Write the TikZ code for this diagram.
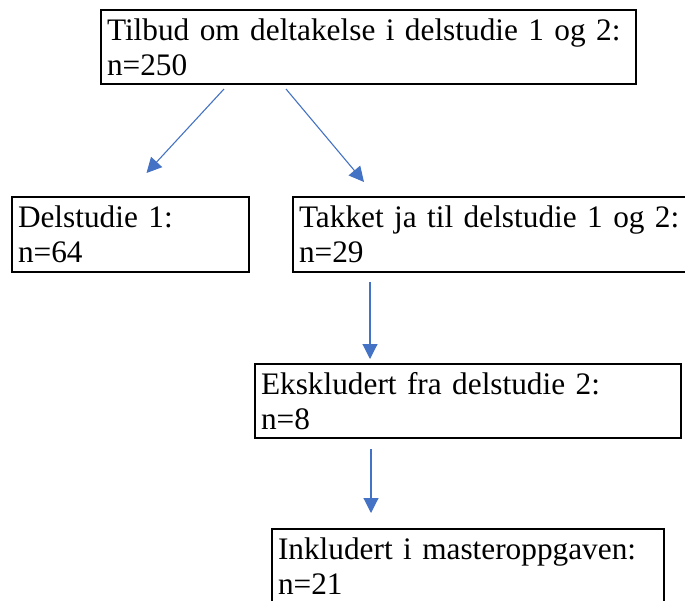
\documentclass[tikz,border=0pt]{standalone}
\usepackage{fontspec}
\setmainfont{Liberation Serif}
\usetikzlibrary{arrows.meta,calc}
\definecolor{arrowblue}{RGB}{68,114,196}
\tikzset{
  flowbox/.style={draw=black, line width=2pt, anchor=north west, align=left,
    inner xsep=6pt, inner ysep=0pt, minimum height=74pt,
    font=\fontsize{31.3}{35}\selectfont},
  flowarrow/.style={draw=arrowblue, line width=1.1pt,
    -{Triangle[length=15pt,width=15pt]}}
}
\begin{document}
\begin{tikzpicture}[x=1pt,y=1pt]
\useasboundingbox (0,0) rectangle (685,-600);
\clip (0,0) rectangle (685,-600);
\node[flowbox, text width=523pt] (b1) at (100,-9) {\mbox{Tilbud om deltakelse i delstudie 1 og 2:}\\n=250};
\node[flowbox, text width=225pt, minimum height=75pt] (b2) at (11,-196) {\mbox{Delstudie 1:}\\n=64};
\node[flowbox, text width=386pt, minimum height=75pt] (b3) at (292,-196) {\mbox{Takket ja til delstudie 1 og 2:}\\n=29};
\node[flowbox, text width=414pt] (b4) at (254,-363) {\mbox{Ekskludert fra delstudie 2:}\\n=8};
\node[flowbox, text width=380pt, yshift=2pt] (b5) at (271,-530) {\mbox{Inkludert i masteroppgaven:}\\n=21};
\draw[flowarrow] ($(b1.south west)+(124,-4)$) -- ($(b2.north west)+(135.5,23)$);
\draw[flowarrow] ($(b1.south west)+(186,-4)$) -- ($(b3.north west)+(72,14)$);
\draw[flowarrow] ($(b3.south west)+(78,-9)$) -- ($(b4.north west)+(116,4)$);
\draw[flowarrow] ($(b4.south west)+(117,-10)$) -- ($(b5.north west)+(100,15)$);
\end{tikzpicture}
\end{document}
